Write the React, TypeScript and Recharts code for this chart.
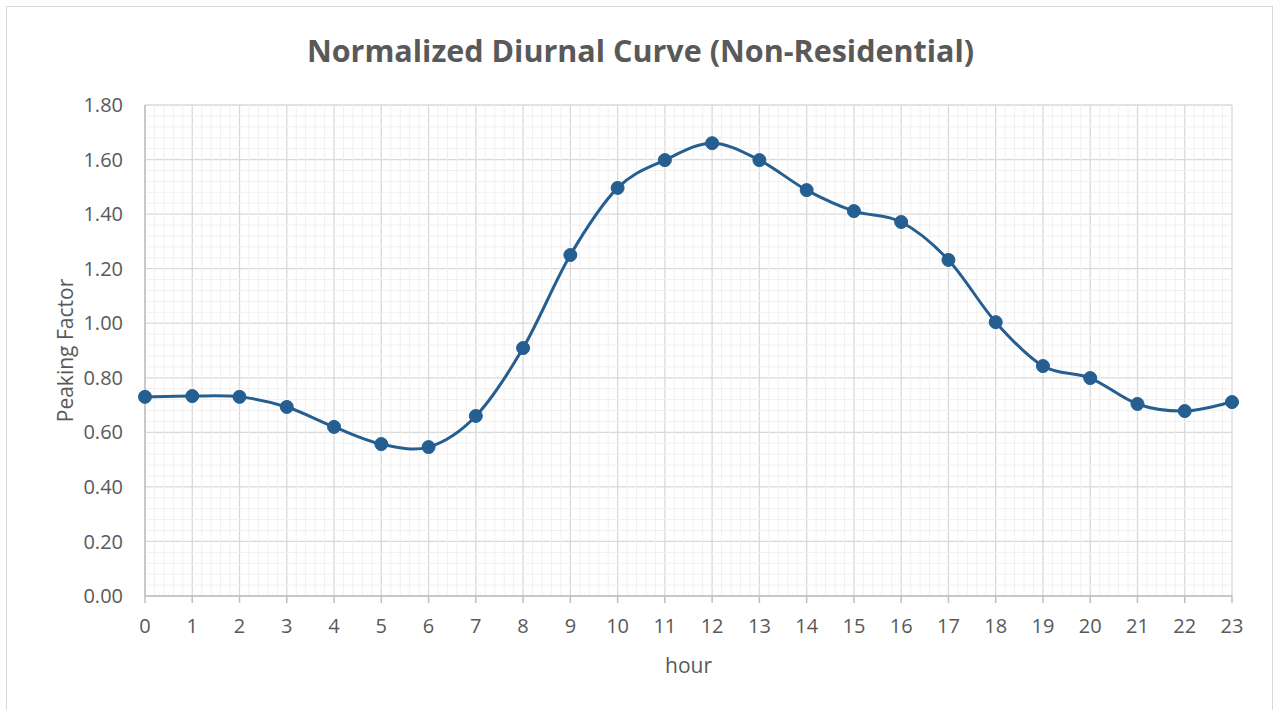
import { CartesianGrid, Line, LineChart, ReferenceLine, XAxis, YAxis } from 'recharts'

// hourly peaking factors
const hours = [0, 1, 2, 3, 4, 5, 6, 7, 8, 9, 10, 11, 12, 13, 14, 15, 16, 17, 18, 19, 20, 21, 22, 23]
const factors = [
  0.73, 0.733, 0.73, 0.693, 0.62, 0.557, 0.546, 0.66, 0.909, 1.25, 1.496, 1.598,
  1.66, 1.598, 1.488, 1.411, 1.371, 1.232, 1.004, 0.843, 0.799, 0.704, 0.678, 0.711,
]
const yTicks = [0, 0.2, 0.4, 0.6, 0.8, 1.0, 1.2, 1.4, 1.6, 1.8]

// minor grid (Excel style): 5 subdivisions per major step
const minorY: number[] = []
for (let i = 0; i < 45; i++) if (i % 5 !== 0) minorY.push(+(i * 0.04).toFixed(2))
const minorX: number[] = []
for (let i = 0; i < 115; i++) if (i % 5 !== 0) minorX.push(+(i * 0.2).toFixed(1))

const data = hours.map((h, i) => ({ hour: h, value: factors[i] }))

const BLUE = '#255e91'
const TXT = '#595959'
const FONT = 'Open Sans, Calibri, sans-serif'

// Excel-like smoothed line (Catmull-Rom through the points)
function excelSmooth(context: any) {
  let pts: number[][] = []
  return {
    areaStart() {},
    areaEnd() {},
    lineStart() {
      pts = []
    },
    point(x: number, y: number) {
      pts.push([+x, +y])
    },
    lineEnd() {
      if (!pts.length) return
      context.moveTo(pts[0][0], pts[0][1])
      for (let i = 0; i < pts.length - 1; i++) {
        const p0 = pts[i - 1] ?? pts[i]
        const p1 = pts[i]
        const p2 = pts[i + 1]
        const p3 = pts[i + 2] ?? p2
        context.bezierCurveTo(
          p1[0] + (p2[0] - p0[0]) / 6,
          p1[1] + (p2[1] - p0[1]) / 6,
          p2[0] - (p3[0] - p1[0]) / 6,
          p2[1] - (p3[1] - p1[1]) / 6,
          p2[0],
          p2[1],
        )
      }
    },
  }
}

export default function App() {
  return (
    <div style={{ position: 'absolute', left: 0, top: 0, width: 1275, height: 710, background: '#fff', fontFamily: FONT }}>
      <div
        style={{
          position: 'absolute',
          left: 6,
          top: 6,
          width: 1267,
          height: 710,
          border: '1.5px solid #d9d9d9',
          boxSizing: 'border-box',
        }}
      />
      <div
        style={{
          position: 'absolute',
          top: 28,
          left: 0,
          width: 1281,
          textAlign: 'center',
          fontSize: 30.5,
          lineHeight: '44px',
          fontWeight: 700,
          color: TXT,
        }}
      >
        Normalized Diurnal Curve (Non-Residential)
      </div>
      <div style={{ position: 'absolute', left: 0, top: 0 }}>
        <LineChart width={1275} height={710} data={data} margin={{ top: 105, right: 43, left: 80, bottom: 34 }}>
          {minorY.map((v) => (
            <ReferenceLine key={'my' + v} y={v} stroke="#f0f0f0" strokeWidth={1} />
          ))}
          {minorX.map((v) => (
            <ReferenceLine key={'mx' + v} x={v} stroke="#f0f0f0" strokeWidth={1} />
          ))}
          <CartesianGrid stroke="#d9d9d9" strokeWidth={1.3} />
          <XAxis
            dataKey="hour"
            type="number"
            domain={[0, 23]}
            ticks={hours}
            interval={0}
            height={80}
            stroke="#bfbfbf"
            strokeWidth={1.5}
            tickSize={7}
            tick={{ fill: TXT, fontSize: 20, fontFamily: FONT, dy: 14 }}
            label={{ value: 'hour', position: 'insideBottom', offset: 3, fill: TXT, fontSize: 21, fontFamily: FONT }}
          />
          <YAxis
            type="number"
            domain={[0, 1.8]}
            ticks={yTicks}
            interval={0}
            width={65}
            stroke="#bfbfbf"
            strokeWidth={1.5}
            tickLine={false}
            tickFormatter={(v: number) => v.toFixed(2)}
            tick={{ fill: TXT, fontSize: 20, fontFamily: FONT, dx: -14 }}
            label={{
              value: 'Peaking Factor',
              angle: -90,
              position: 'insideLeft',
              offset: -14,
              style: { textAnchor: 'middle' },
              fill: TXT,
              fontSize: 21,
              fontFamily: FONT,
            }}
          />
          <Line
            type={excelSmooth as any}
            dataKey="value"
            stroke={BLUE}
            strokeWidth={3}
            dot={{ r: 6.5, fill: BLUE, stroke: BLUE, strokeWidth: 1 }}
            isAnimationActive={false}
          />
        </LineChart>
      </div>
    </div>
  )
}
